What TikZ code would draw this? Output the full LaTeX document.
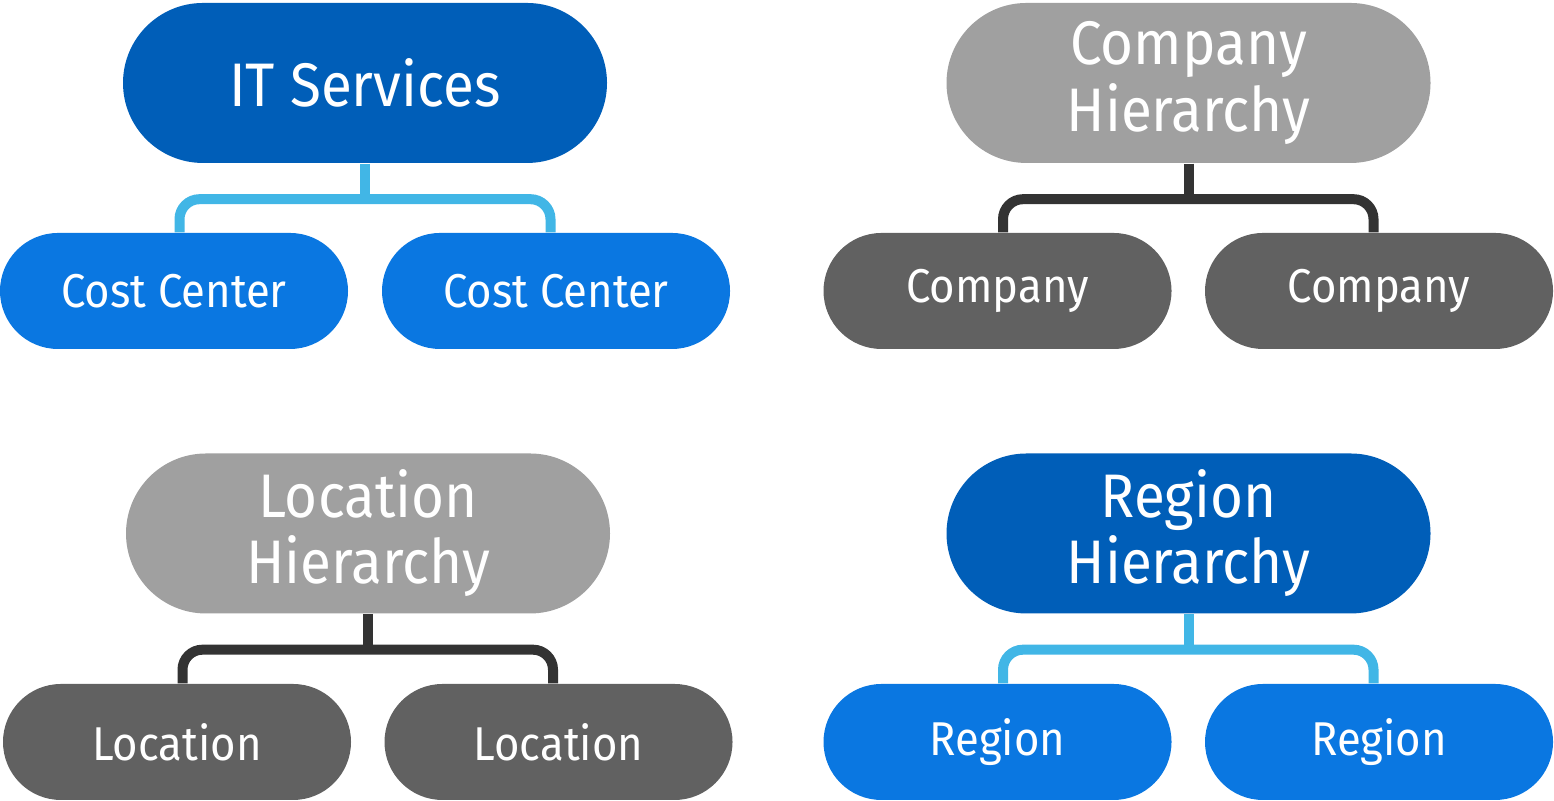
\documentclass[tikz,border=0pt]{standalone}
\usepackage{fontspec}
\setmainfont{Fira Sans}[FakeStretch=0.92]
\definecolor{deepblue}{HTML}{005EB8}
\definecolor{midblue}{HTML}{0A77E1}
\definecolor{lineblue}{HTML}{41B6E6}
\definecolor{boxgray}{HTML}{A0A0A0}
\definecolor{boxdark}{HTML}{616161}
\definecolor{linedark}{HTML}{333333}

\begin{document}
\begin{tikzpicture}[
    parent/.style={fill=#1, rectangle, rounded corners=0.8cm, minimum width=4.84cm, minimum height=1.6cm, inner sep=0pt, text=white, align=center, font=\fontsize{17.5}{18.8}\selectfont},
    child/.style={fill=#1, rectangle, rounded corners=0.58cm, minimum width=3.48cm, minimum height=1.16cm, inner sep=0pt, text=white, font=\fontsize{13.5}{16}\selectfont},
    link/.style={draw=#1, line width=0.1cm, rounded corners=0.2cm}]
    \useasboundingbox (0,0) rectangle (15.54,8.01);

    \node[parent=deepblue] (it) at (3.65,7.18) {IT Services};
    \node[child=midblue] (cc1) at (1.74,5.10) {Cost Center};
    \node[child=midblue] (cc2) at (5.56,5.10) {Cost Center};

    \node[parent=boxgray] (ch) at (11.885,7.18) {Company\\Hierarchy};
    \node[child=boxdark] (co1) at (9.975,5.10) {Company};
    \node[child=boxdark] (co2) at (13.79,5.10) {Company};

    \node[parent=boxgray] (lh) at (3.68,2.675) {Location\\Hierarchy};
    \node[child=boxdark] (lo1) at (1.77,0.59) {Location};
    \node[child=boxdark] (lo2) at (5.585,0.59) {Location};

    \node[parent=deepblue] (rh) at (11.885,2.675) {Region\\Hierarchy};
    \node[child=midblue] (re1) at (9.975,0.59) {Region};
    \node[child=midblue] (re2) at (13.79,0.59) {Region};

    \draw[link=lineblue] (it.south) -- ++(0,-0.355);
    \draw[link=lineblue] ([xshift=0.055cm]cc1.north) |- ([yshift=-0.355cm]it.south) -| ([xshift=-0.055cm]cc2.north);

    \draw[link=linedark] (ch.south) -- ++(0,-0.355);
    \draw[link=linedark] ([xshift=0.055cm]co1.north) |- ([yshift=-0.355cm]ch.south) -| ([xshift=-0.055cm]co2.north);

    \draw[link=linedark] (lh.south) -- ++(0,-0.355);
    \draw[link=linedark] ([xshift=0.055cm]lo1.north) |- ([yshift=-0.355cm]lh.south) -| ([xshift=-0.055cm]lo2.north);

    \draw[link=lineblue] (rh.south) -- ++(0,-0.355);
    \draw[link=lineblue] ([xshift=0.055cm]re1.north) |- ([yshift=-0.355cm]rh.south) -| ([xshift=-0.055cm]re2.north);
\end{tikzpicture}
\end{document}
